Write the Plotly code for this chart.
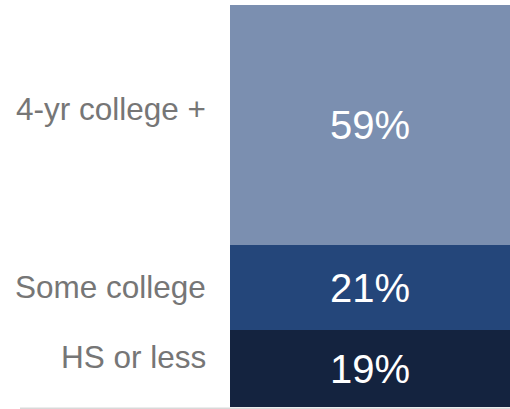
import plotly.graph_objects as go

categories = ["HS or less", "Some college", "4-yr college +"]
values = [19, 21, 59]
colors = ["#14233f", "#24467a", "#7b8fb0"]
label_y = [0.124, 0.2985, 0.742]

fig = go.Figure()
for cat, v, c in zip(categories, values, colors):
    fig.add_trace(go.Bar(
        x=["all"], y=[v], name=cat, marker=dict(color=c, line=dict(width=0)),
        text=[f"{v}%"], textposition="inside", insidetextanchor="middle",
        textfont=dict(color="white", size=40, family="Liberation Sans"),
        hoverinfo="skip",
    ))

for cat, yy in zip(categories, label_y):
    fig.add_annotation(
        text=cat, xref="paper", yref="paper", x=-0.08, y=yy,
        xanchor="right", yanchor="middle", showarrow=False,
        font=dict(color="#767676", size=31.5, family="Liberation Sans"),
    )

fig.add_shape(type="line", xref="paper", yref="paper", x0=-0.75, x1=1, y0=-0.003, y1=-0.003,
              line=dict(color="#d9d9d9", width=1.5))

fig.update_layout(
    width=510, height=409, barmode="stack", bargap=0, showlegend=False,
    margin=dict(l=230, r=0, t=5, b=2),
    plot_bgcolor="white", paper_bgcolor="white",
    xaxis=dict(visible=False),
    yaxis=dict(visible=False, range=[0, sum(values)]),
    uniformtext=dict(minsize=10, mode="show"),
)
fig.write_html("out.html")
